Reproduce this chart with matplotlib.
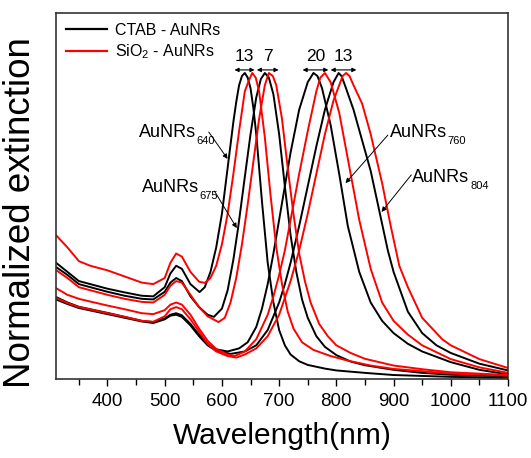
import numpy as np
import matplotlib.pyplot as plt

plt.rcParams['font.family'] = ['Liberation Sans', 'DejaVu Sans']
plt.rcParams['mathtext.fontset'] = 'custom'
plt.rcParams['mathtext.rm'] = 'Liberation Sans'
plt.rcParams['mathtext.default'] = 'regular'

# common UV part of every spectrum (transverse band around 520 nm)
uv_wl = [310, 330, 350, 370, 400, 430, 460, 480, 500, 510, 520, 530, 545]

# CTAB coated rods (black)
k640_uv = [0.38, 0.35, 0.32, 0.31, 0.295, 0.283, 0.272, 0.27, 0.30, 0.345, 0.37, 0.36, 0.31]
k640_wl = [561, 570, 580, 590, 600, 610, 620, 625, 630, 635, 640, 645, 650, 655, 660, 670,
           680, 690, 700, 710, 720, 735, 750, 780, 800, 850, 900, 1000, 1100]
k640 = [0.284, 0.30, 0.35, 0.43, 0.54, 0.69, 0.84, 0.905, 0.96, 0.99, 1.0, 0.985, 0.95, 0.885,
        0.80, 0.58, 0.38, 0.25, 0.16, 0.11, 0.08, 0.058, 0.046, 0.034, 0.028, 0.02, 0.013,
        0.007, 0.004]

k675_uv = [0.366, 0.34, 0.31, 0.30, 0.285, 0.272, 0.262, 0.26, 0.285, 0.315, 0.33, 0.32, 0.27]
k675_wl = [560, 575, 586, 600, 610, 620, 628, 640, 650, 660, 668, 675, 682, 690, 700, 710,
           720, 730, 740, 750, 765, 780, 800, 825, 850, 900, 950, 1000, 1100]
k675 = [0.235, 0.21, 0.203, 0.23, 0.29, 0.39, 0.49, 0.66, 0.80, 0.92, 0.98, 1.0, 0.985, 0.93,
        0.80, 0.63, 0.47, 0.35, 0.26, 0.2, 0.14, 0.105, 0.078, 0.057, 0.045, 0.03, 0.02,
        0.014, 0.009]

k760_uv = [0.268, 0.25, 0.236, 0.228, 0.216, 0.203, 0.19, 0.186, 0.198, 0.21, 0.215, 0.208, 0.18]
k760_wl = [560, 575, 590, 610, 630, 645, 660, 670, 680, 690, 700, 710, 720, 735, 750, 760,
           767, 775, 790, 805, 820, 840, 860, 880, 900, 925, 950, 1000, 1050, 1100]
k760 = [0.145, 0.115, 0.097, 0.09, 0.1, 0.12, 0.17, 0.23, 0.31, 0.41, 0.52, 0.63, 0.74, 0.88,
        0.97, 1.0, 0.99, 0.95, 0.83, 0.67, 0.5, 0.35, 0.25, 0.19, 0.15, 0.115, 0.09, 0.055,
        0.03, 0.015]

k804_uv = [0.26, 0.245, 0.232, 0.224, 0.212, 0.2, 0.188, 0.183, 0.195, 0.207, 0.21, 0.203, 0.175]
k804_wl = [560, 575, 590, 615, 640, 660, 680, 700, 710, 720, 735, 750, 765, 780, 795, 804,
           809, 815, 830, 845, 860, 875, 890, 900, 925, 950, 975, 1000, 1050, 1100]
k804 = [0.14, 0.11, 0.092, 0.082, 0.09, 0.11, 0.16, 0.25, 0.31, 0.38, 0.5, 0.63, 0.76, 0.88,
        0.97, 1.0, 0.99, 0.96, 0.88, 0.78, 0.68, 0.55, 0.42, 0.35, 0.22, 0.15, 0.11, 0.085,
        0.05, 0.028]

# SiO2 coated rods (red)
s653_uv = [0.47, 0.43, 0.385, 0.37, 0.355, 0.335, 0.315, 0.31, 0.33, 0.38, 0.41, 0.40, 0.35]
s653_wl = [560, 570, 580, 590, 600, 610, 620, 630, 640, 647, 653, 659, 665, 675, 685, 695,
           705, 715, 725, 740, 760, 790, 820, 860, 900, 1000, 1100]
s653 = [0.318, 0.314, 0.33, 0.37, 0.44, 0.54, 0.67, 0.81, 0.94, 0.975, 1.0, 0.985, 0.94,
        0.79, 0.6, 0.43, 0.31, 0.22, 0.165, 0.12, 0.095, 0.075, 0.06, 0.044, 0.033, 0.018,
        0.011]

s682_uv = [0.356, 0.33, 0.30, 0.29, 0.275, 0.262, 0.252, 0.25, 0.275, 0.305, 0.32, 0.315, 0.275]
s682_wl = [560, 575, 594, 605, 615, 625, 635, 645, 655, 665, 675, 682, 689, 695, 705, 715,
           725, 735, 745, 755, 770, 785, 800, 825, 850, 900, 950, 1000, 1100]
s682 = [0.235, 0.205, 0.186, 0.2, 0.25, 0.33, 0.44, 0.57, 0.71, 0.85, 0.96, 1.0, 0.99, 0.96,
        0.85, 0.69, 0.54, 0.41, 0.32, 0.25, 0.18, 0.14, 0.11, 0.085, 0.066, 0.044, 0.032,
        0.022, 0.013]

s780_uv = [0.297, 0.275, 0.262, 0.253, 0.24, 0.228, 0.215, 0.212, 0.225, 0.243, 0.25, 0.243, 0.21]
s780_wl = [560, 575, 590, 610, 622, 640, 660, 680, 690, 700, 710, 720, 735, 750, 765, 772,
           780, 790, 805, 820, 840, 860, 880, 900, 925, 950, 1000, 1050, 1100]
s780 = [0.165, 0.125, 0.098, 0.08, 0.075, 0.09, 0.13, 0.21, 0.27, 0.34, 0.42, 0.52, 0.67,
        0.81, 0.94, 0.985, 1.0, 0.97, 0.87, 0.72, 0.52, 0.36, 0.25, 0.19, 0.145, 0.11, 0.065,
        0.038, 0.02]

s817_uv = [0.265, 0.248, 0.235, 0.227, 0.215, 0.203, 0.19, 0.187, 0.205, 0.228, 0.235, 0.228, 0.195]
s817_wl = [560, 575, 590, 610, 625, 640, 660, 680, 700, 720, 735, 750, 765, 780, 795, 805,
           811, 817, 823, 830, 845, 860, 880, 895, 910, 925, 950, 985, 1000, 1050, 1100]
s817 = [0.155, 0.115, 0.09, 0.075, 0.07, 0.08, 0.1, 0.14, 0.21, 0.32, 0.42, 0.54, 0.67, 0.8,
        0.91, 0.96, 0.99, 1.0, 0.99, 0.96, 0.9, 0.8, 0.64, 0.5, 0.37, 0.3, 0.2, 0.13, 0.11,
        0.065, 0.036]

ctab = [(k640_uv, k640_wl, k640), (k675_uv, k675_wl, k675),
        (k760_uv, k760_wl, k760), (k804_uv, k804_wl, k804)]
sio2 = [(s653_uv, s653_wl, s653), (s682_uv, s682_wl, s682),
        (s780_uv, s780_wl, s780), (s817_uv, s817_wl, s817)]


def spectrum(uv, wl, ext):
    return np.array(uv_wl + wl), np.array(uv + ext)


fig = plt.figure(figsize=(5.31, 4.58), dpi=100)
ax = fig.add_axes([56 / 531, 1 - 379 / 458, 452 / 531, 366 / 458])

peaks_k = []
peaks_s = []
for uv, wl, ext in ctab:
    x, y = spectrum(uv, wl, ext)
    ax.plot(x, y, color='black', lw=1.4)
    peaks_k.append(x[np.argmax(y)])
for uv, wl, ext in sio2:
    x, y = spectrum(uv, wl, ext)
    ax.plot(x, y, color='red', lw=1.4)
    peaks_s.append(x[np.argmax(y)])

ax.set_xlim(310, 1100)
ax.set_ylim(0, 1.196)
ax.set_xticks(np.arange(400, 1101, 100))
ax.set_xticks(np.arange(350, 1101, 50), minor=True)
ax.set_yticks([])
ax.tick_params(axis='x', which='major', direction='out', length=5, width=1, labelsize=13.5, pad=5)
ax.tick_params(axis='x', which='minor', direction='out', length=4, width=1)
for s in ax.spines.values():
    s.set_linewidth(1.2)
    s.set_color('#333333')

ax.set_xlabel('Wavelength(nm)', fontsize=21.5, labelpad=9)
fig.text(21 / 531, 1 - 213 / 458, 'Normalized extinction', rotation=90, fontsize=26.5,
         ha='center', va='center')

# legend
ax.plot([], [], color='black', lw=1.6, label='CTAB - AuNRs')
ax.plot([], [], color='red', lw=1.6, label='SiO$_2$ - AuNRs')
h, l = ax.get_legend_handles_labels()
ax.legend(h[-2:], l[-2:], loc='upper left', frameon=False, fontsize=11.5,
          handlelength=2.6, handletextpad=0.5, borderaxespad=0.2, labelspacing=0.3)

# peak shift markers
shift_spans = [(622, 657), (661, 699), (741, 786), (790, 835)]
for (a, b), pk, ps in zip(shift_spans, peaks_k, peaks_s):
    ax.annotate('', xy=(a, 1.01), xytext=(b, 1.01),
                arrowprops=dict(arrowstyle='<|-|>', lw=0.8, color='black', mutation_scale=6,
                                shrinkA=0, shrinkB=0))
    ax.text((a + b) / 2, 1.03, '%d' % (ps - pk), fontsize=12.5, ha='center', va='bottom')

# sample labels, small subscript placed right after the main text
label_pos = [((455, 0.807), (577, 0.807), (610, 0.719)),
             ((460, 0.627), (587, 0.614), (626, 0.493)),
             ((893, 0.804), (890, 0.797), (816, 0.64)),
             ((933, 0.66), (931, 0.667), (879, 0.546))]
for pk, (txt, tail, tip) in zip(peaks_k, label_pos):
    t = ax.text(txt[0], txt[1], 'AuNRs', fontsize=13, ha='left', va='center')
    ax.annotate('%d' % pk, xy=(1, 0.0), xycoords=t, xytext=(0.5, 0), textcoords='offset points',
                fontsize=8, ha='left', va='center')
    ax.annotate('', xy=tip, xytext=tail,
                arrowprops=dict(arrowstyle='-|>', lw=0.7, color='black', mutation_scale=7,
                                shrinkA=0, shrinkB=0))

fig.savefig('out.png', dpi=100)
